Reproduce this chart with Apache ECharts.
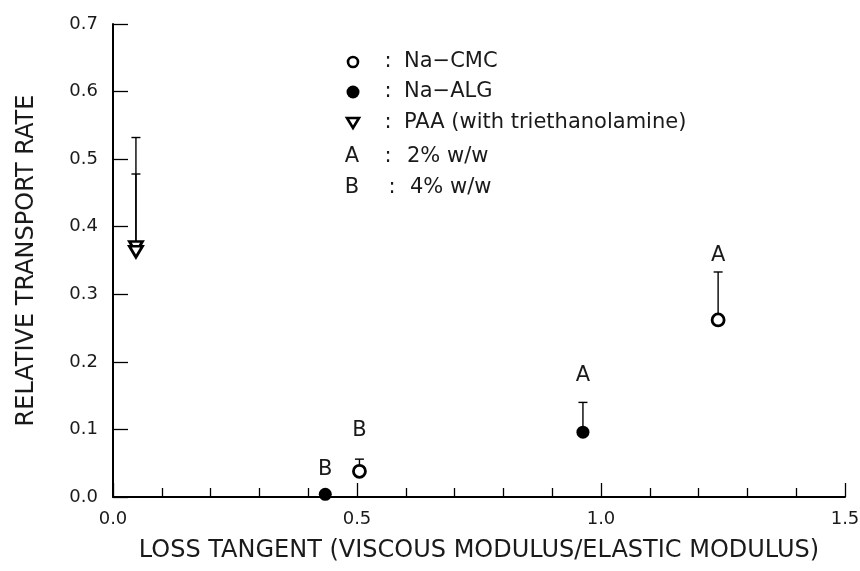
<!DOCTYPE html>
<html>
<head>
<meta charset="utf-8">
<script src="https://cdn.jsdelivr.net/npm/echarts@6/dist/echarts.min.js"></script>
<style>html,body{margin:0;padding:0;background:#fff}#c{width:860px;height:571px}</style>
</head>
<body>
<div id="c"></div>
<script>
// ---- data ----
var cmcX = [0.505, 1.24];
var cmcY = [0.038, 0.262];
var cmcTop = [0.056, 0.333];

var algX = [0.435, 0.963];
var algY = [0.004, 0.096];
var algTop = [null, 0.140];

var paaX = [0.047, 0.047];
var paaY = [0.370, 0.363];
var paaTop = [0.532, 0.478];

var annX = [0.505, 0.435, 0.963, 1.24];
var annY = [0.099, 0.041, 0.180, 0.358];
var annText = ['B', 'B', 'A', 'A'];

var xTicks = [0.0, 0.5, 1.0, 1.5];
var yTicks = [0.0, 0.1, 0.2, 0.3, 0.4, 0.5, 0.6, 0.7];

var legendRows = [
  {sym: 'open', key: '', text: 'Na\u2212CMC'},
  {sym: 'filled', key: '', text: 'Na\u2212ALG'},
  {sym: 'tri', key: '', text: 'PAA (with triethanolamine)'},
  {sym: '', key: 'A', text: '2% w/w'},
  {sym: '', key: 'B', text: '4% w/w'}
];

var FONT = "'DejaVu Sans', sans-serif";
var INK = '#000';
var TXT = '#1a1a1a';

function errData(xs, ys, tops) {
  var out = [];
  for (var i = 0; i < xs.length; i++) {
    if (tops[i] != null) out.push([xs[i], ys[i], tops[i]]);
  }
  return out;
}
var errAll = errData(cmcX, cmcY, cmcTop)
  .concat(errData(algX, algY, algTop))
  .concat(errData(paaX, paaY, paaTop));

function zip(a, b) { return a.map(function (v, i) { return [v, b[i]]; }); }

var chart = echarts.init(document.getElementById('c'), null, {renderer: 'canvas'});

// legend graphics
var legendGraphics = [];
var rowY = [62, 92, 123, 157, 188];
var LF = 'normal 21px ' + FONT;
legendRows.forEach(function (r, i) {
  var y = rowY[i];
  if (r.sym === 'open') {
    legendGraphics.push({type: 'circle', shape: {cx: 353, cy: y, r: 5}, style: {fill: '#fff', stroke: INK, lineWidth: 2.6}});
  } else if (r.sym === 'filled') {
    legendGraphics.push({type: 'circle', shape: {cx: 353, cy: y, r: 6.5}, style: {fill: INK}});
  } else if (r.sym === 'tri') {
    legendGraphics.push({type: 'polygon', shape: {points: [[347, y - 5], [359, y - 5], [353, y + 5]]}, style: {fill: '#fff', stroke: INK, lineWidth: 2.6}});
  } else {
    legendGraphics.push({type: 'text', x: 352, y: y, style: {text: r.key, font: LF, fill: TXT, align: 'center', verticalAlign: 'middle'}});
  }
  var colonX = r.key === 'B' ? 392 : 388;
  var textX = r.key === 'B' ? 410 : (r.key === 'A' ? 407 : 404);
  legendGraphics.push({type: 'text', x: colonX, y: y, style: {text: ':', font: LF, fill: TXT, align: 'center', verticalAlign: 'middle'}});
  legendGraphics.push({type: 'text', x: textX, y: y, style: {text: r.text, font: LF, fill: TXT, align: 'left', verticalAlign: 'middle'}});
});

var option = {
  backgroundColor: '#fff',
  animation: false,
  grid: {left: 113, right: 15, top: 24, bottom: 74, containLabel: false, outerBoundsMode: 'none'},
  xAxis: {
    type: 'value', min: 0, max: 1.5, interval: 0.5,
    name: 'LOSS TANGENT (VISCOUS MODULUS/ELASTIC MODULUS)',
    nameLocation: 'middle', nameGap: 42,
    nameTextStyle: {fontFamily: FONT, fontSize: 24, color: TXT, fontWeight: 'normal'},
    axisLine: {show: true, lineStyle: {color: INK, width: 2}},
    axisTick: {show: true, inside: true, length: 14, lineStyle: {color: INK, width: 1.3}},
    minorTick: {show: true, splitNumber: 5, length: 9, lineStyle: {color: INK, width: 1.3}},
    splitLine: {show: false},
    axisLabel: {fontFamily: FONT, fontSize: 18, color: TXT, margin: 13,
      formatter: function (v) { return xTicks.indexOf(Math.round(v * 10) / 10) >= 0 ? v.toFixed(1) : ''; }}
  },
  yAxis: {
    type: 'value', min: 0, max: 0.7, interval: 0.1,
    name: 'RELATIVE TRANSPORT RATE',
    nameLocation: 'middle', nameGap: 74, nameRotate: 90,
    nameTextStyle: {fontFamily: FONT, fontSize: 24, color: TXT, fontWeight: 'normal'},
    axisLine: {show: true, lineStyle: {color: INK, width: 2}},
    axisTick: {show: true, inside: true, length: 15, lineStyle: {color: INK, width: 1.3}},
    splitLine: {show: false},
    axisLabel: {fontFamily: FONT, fontSize: 18, color: TXT, margin: 15,
      formatter: function (v) { return yTicks.indexOf(Math.round(v * 10) / 10) >= 0 ? v.toFixed(1) : ''; }}
  },
  graphic: legendGraphics,
  series: [
    {
      type: 'custom', name: 'err', z: 1,
      data: errAll,
      renderItem: function (params, api) {
        var x = api.value(0);
        var p0 = api.coord([x, api.value(1)]);
        var p1 = api.coord([x, api.value(2)]);
        return {type: 'group', children: [
          {type: 'line', shape: {x1: p0[0], y1: p0[1], x2: p1[0], y2: p1[1]}, style: {stroke: INK, lineWidth: 1.4}},
          {type: 'line', shape: {x1: p1[0] - 4.5, y1: p1[1], x2: p1[0] + 4.5, y2: p1[1]}, style: {stroke: INK, lineWidth: 1.4}}
        ]};
      }
    },
    {
      type: 'scatter', name: 'Na-CMC', z: 3,
      data: zip(cmcX, cmcY), symbol: 'circle', symbolSize: 12,
      itemStyle: {color: '#fff', borderColor: INK, borderWidth: 2.8, opacity: 1}
    },
    {
      type: 'scatter', name: 'Na-ALG', z: 3,
      data: zip(algX, algY), symbol: 'circle', symbolSize: 13,
      itemStyle: {color: INK, opacity: 1}
    },
    {
      type: 'scatter', name: 'PAA', z: 3,
      data: zip(paaX, paaY), symbol: 'triangle', symbolRotate: 180, symbolSize: [13, 11],
      itemStyle: {color: '#fff', borderColor: INK, borderWidth: 2.8, opacity: 1}
    },
    {
      type: 'custom', name: 'ann', z: 4,
      data: annX.map(function (x, i) { return [x, annY[i], annText[i]]; }),
      renderItem: function (params, api) {
        var p = api.coord([api.value(0), api.value(1)]);
        return {type: 'text', x: p[0], y: p[1], style: {text: annText[params.dataIndex], font: LF, fill: TXT, align: 'center', verticalAlign: 'middle'}};
      }
    }
  ]
};
chart.setOption(option);
</script>
</body>
</html>
